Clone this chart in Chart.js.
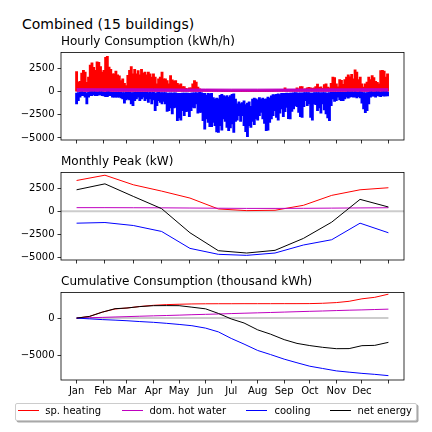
<!DOCTYPE html>
<html>
<head>
<meta charset="utf-8">
<script src="https://cdn.jsdelivr.net/npm/chart.js@4.4.1/dist/chart.umd.min.js"></script>
<style>
  body { margin: 0; width: 432px; height: 432px; background: #fff; position: relative; overflow: hidden;
         font-family: 'DejaVu Sans', sans-serif; color: #000; }
  canvas { position: absolute; left: 0; }
  #suptitle { position: absolute; left: 22px; top: 15.5px; font-size: 14px; line-height: 16px; white-space: nowrap; }
  #legend { position: absolute; left: 15px; top: 402.7px; width: 400px; height: 16.5px; border: 1px solid #cccccc;
            border-radius: 2px; background: #fff; box-shadow: 1.5px 1.5px 0 #a8a8a8; }
  .lg-line { position: absolute; top: 409.7px; width: 21px; height: 1.2px; }
  .lg-text { position: absolute; top: 404.5px; font-size: 10px; line-height: 12px; white-space: nowrap; }
</style>
</head>
<body>
<div id="suptitle">Combined (15 buildings)</div>
<canvas id="hourly" width="432" height="129" style="top:34.5px"></canvas>
<canvas id="peak" width="432" height="129" style="top:154.5px"></canvas>
<canvas id="cumul" width="432" height="129" style="top:274.5px"></canvas>
<div id="legend"></div>
<span class="lg-line" style="left:18.3px;background:#ff0000"></span><span class="lg-text" style="left:45.2px">sp. heating</span>
<span class="lg-line" style="left:122.3px;background:#bf00bf"></span><span class="lg-text" style="left:149.5px">dom. hot water</span>
<span class="lg-line" style="left:246px;background:#0000ff"></span><span class="lg-text" style="left:274.5px">cooling</span>
<span class="lg-line" style="left:330px;background:#000000"></span><span class="lg-text" style="left:357.5px">net energy</span>
<script>
// ---- data ----
const MONTHS = ['Jan', 'Feb', 'Mar', 'Apr', 'May', 'Jun', 'Jul', 'Aug', 'Sep', 'Oct', 'Nov', 'Dec'];
const MONTH_START = [0, 31, 59, 90, 120, 151, 181, 212, 243, 273, 304, 334, 365];

// hourly consumption, summarised as the max / min hourly value of each 2-day window (kWh/h)
const STEP = 2;
const heatMax2d = [
  2160, 1010, 1100, 2000, 2300, 2100, 1000, 1550, 2850, 3100,
  2600, 2300, 3200, 3150, 2700, 2100, 2300, 3700, 3800, 2630,
  2400, 1900, 1910, 2200, 1800, 1700, 1190, 1370, 900, 650,
  1750, 2300, 2700, 1910, 2400, 1900, 2270, 1800, 2400, 2000,
  2100, 1800, 2100, 1910, 1550, 1910, 1550, 830, 1370, 1550,
  2090, 1370, 1370, 1190, 830, 1730, 1260, 1120, 1190, 900,
  720, 830, 540, 540, 360, 290, 400, 400, 830, 1190,
  1010, 470, 290,
  250, 200, 180, 150, 120, 150, 100, 80, 60, 50, 40, 30,
  0, 0, 0, 0, 0, 0, 0, 0, 0, 0, 0, 0, 0, 0, 0,
  0, 0, 0, 0, 0, 0, 0, 0, 0, 0, 0, 0, 0, 0, 0,
  20, 40, 50, 80, 60, 100, 150,
  400, 250, 150, 200, 150, 200, 150, 400, 300, 540, 540, 200, 300, 400, 450,
  400, 350, 400, 550, 800, 450, 500, 350, 750, 830,
  470, 400, 900, 1550, 1500, 830, 500, 1300, 1200, 780,
  1300, 1550, 1800, 1600, 1850, 1370, 2340, 2100, 1300, 1550,
  830, 480, 830, 1010, 1550, 1300, 1730, 1500, 1100, 1000,
  830, 2270, 2300, 2200, 1550, 1900
];
const coolMin2d = [
  -1330, -980, -610, -430, -430, -610, -1330, -610, -430, -430,
  -330, -430, -430, -360, -360, -430, -470, -540, -540, -430,
  -430, -610, -610, -610, -610, -610, -690, -790, -1260, -900,
  -790, -900, -1330, -1520, -980, -790, -610, -980, -790, -610,
  -980, -790, -1160, -790, -1330, -900, -2060, -1520, -980, -1160,
  -1330, -1050, -1330, -2130, -2060, -1770, -2420, -1770, -1700, -3140,
  -2850, -3070, -2060, -2600, -2160, -2130, -2700, -2060, -1700, -1770,
  -1330, -2340, -2240, -2240, -3140, -4040, -2960, -3320, -3790, -3790,
  -3320, -3680, -4360, -4400, -3680, -4150, -2960, -3210, -3860, -4220,
  -3930, -3500, -4400, -3210, -3070, -2600, -3210, -2600, -3680, -4330,
  -4850, -3680, -3860, -3210, -3570, -2960, -3070, -2600, -2240, -2960,
  -3430, -4220, -4150, -3320, -2960, -2600, -2060, -2780, -3070, -2340,
  -1880, -2700, -2160, -1700, -2920, -2960, -2130, -1880, -1520, -1620,
  -2240, -2700, -2780, -1620, -980, -1520, -1330, -2780, -3070, -1330,
  -1410, -2060, -1770, -2340, -1330, -1980, -2420, -2850, -3140, -1520,
  -790, -1050, -980, -610, -900, -980, -980, -790, -610, -720,
  -610, -540, -610, -580, -690, -540, -690, -1260, -1880, -2270,
  -2060, -1330, -610, -500, -500, -610, -430, -500, -540, -430,
  -500, -470, -470
];
const coolMax2d = [
  -150, -120, -80, -60, -70, -90, -150, -80, -60, -50,
  -50, -60, -70, -50, -60, -60, -70, -80, -60, -60,
  -70, -80, -80, -90, -80, -70, -90, -100, -120, -90,
  -80, -90, -110, -120, -90, -80, -70, -90, -80, -70,
  -90, -80, -100, -80, -110, -90, -150, -120, -90, -100,
  -110, -100, -120, -150, -150, -130, -160, -140, -130, -200,
  -180, -200, -150, -170, -160, -150, -180, -150, -130, -140,
  -120, -150,
  -80, -100, -180, -200, -390, -180, -250, -200, -650, -800,
  -700, -790, -400, -300, -430, -550, -430, -600, -430, -300,
  -250, -800, -1330, -1100, -1300, -1200, -1000, -1400, -1250, -1100,
  -1600, -800, -700, -790, -900, -650, -800, -700, -850, -790,
  -600, -700, -450, -320, -350, -300, -250, -320, -200, -180,
  -200, -150, -180,
  -160, -150, -130, -120, -140, -160, -130, -150, -120, -110,
  -100, -120, -160, -150, -110, -100, -120, -110, -130, -100,
  -120, -140, -150, -110, -90, -80, -90, -80, -70, -90,
  -80, -70, -80, -70, -60, -70, -60, -70, -60, -80,
  -70, -60, -90, -120, -140, -100, -70, -60, -60, -70,
  -60, -50, -60, -70, -60, -60, -50, -60
];
// hourly domestic hot water band per month start (kWh/h)
const hwHourMax = [310, 300, 300, 290, 280, 270, 260, 260, 270, 280, 290, 300, 310];
const hwHourMin = [40, 40, 40, 40, 40, 40, 40, 40, 40, 40, 40, 40, 40];

// monthly peak (kW)
const heatPeak = [3310, 3880, 2850, 2170, 1420, 250, 70, 110, 640, 1710, 2310, 2530];
const hwPeak = [390, 390, 380, 370, 350, 330, 310, 310, 320, 340, 360, 380];
const coolPeak = [-1280, -1210, -1530, -2170, -3990, -4630, -4740, -4490, -3630, -3060, -1280, -2310];
const netPeak = [2310, 2950, 1600, 280, -2310, -4240, -4490, -4200, -2920, -1170, 1280, 460];

// cumulative consumption (thousand kWh)
const cumDays = [0, 15, 30, 45, 59, 74, 90, 105, 120, 135, 151, 166, 181, 196, 212, 227, 243, 258, 273, 288, 304, 319, 334, 349, 365];
const heatCum = [0, 220, 790, 1210, 1340, 1540, 1700, 1790, 1840, 1880, 1900, 1910, 1910, 1915, 1915, 1915, 1920, 1920, 1925, 1970, 2060, 2230, 2560, 2760, 3180];
const hwCum = [0, 45, 95, 150, 195, 250, 300, 345, 395, 450, 500, 545, 600, 650, 700, 745, 800, 850, 900, 945, 1000, 1050, 1090, 1140, 1190];
const coolCum = [0, -100, -200, -270, -350, -460, -560, -690, -840, -1010, -1330, -1830, -2700, -3450, -4300, -4840, -5450, -5930, -6390, -6690, -7010, -7180, -7340, -7470, -7640];
const netCum = [0, 220, 790, 1250, 1340, 1530, 1650, 1660, 1650, 1450, 1230, 620, -110, -650, -1560, -2130, -2860, -3360, -3650, -3880, -4060, -4050, -3660, -3620, -3220];

// ---- styling ----
const COLORS = { heat: '#ff0000', hw: '#bf00bf', cool: '#0000ff', net: '#000000', zero: '#cccccc' };

Chart.defaults.font.family = "'DejaVu Sans', sans-serif";
Chart.defaults.font.size = 10;
Chart.defaults.color = '#000';
Chart.defaults.animation = false;

// top and right spines like matplotlib
const framePlugin = {
  id: 'frame',
  afterDatasetsDraw(chart) {
    const { ctx, chartArea: a } = chart;
    ctx.save();
    ctx.strokeStyle = '#000';
    ctx.lineWidth = 0.8;
    ctx.strokeRect(a.left, a.top, a.right - a.left, a.bottom - a.top);
    ctx.restore();
  }
};

const fmt = v => (v < 0 ? '\u2212' + Math.abs(v) : String(v));

function tickGrid() {
  return { display: true, drawOnChartArea: false, drawTicks: true, tickLength: 3.5, color: '#000', lineWidth: 0.8, offset: false };
}

function xAxis(min, max, ticks, labels) {
  return {
    type: 'linear', min, max, offset: false,
    grid: tickGrid(),
    border: { display: false },
    ticks: { autoSkip: false, maxRotation: 0, padding: 1.5, callback: (v, i) => (labels ? (labels[i] || '') : '') },
    afterBuildTicks: s => { s.ticks = ticks.map(v => ({ value: v })); },
    afterFit: s => { s.height = 24; }
  };
}

function yAxis(min, max, ticks) {
  return {
    type: 'linear', min, max,
    grid: tickGrid(),
    border: { display: false },
    ticks: { padding: 3, callback: v => fmt(v) },
    afterBuildTicks: s => { s.ticks = ticks.map(v => ({ value: v })); },
    afterFit: s => { s.width = 61; }
  };
}

function baseOptions(title, xa, ya) {
  return {
    responsive: false,
    animation: false,
    layout: { padding: { left: 0, right: 28, top: 0, bottom: 0 } },
    plugins: {
      legend: { display: false },
      tooltip: { enabled: false },
      title: { display: true, text: title, align: 'start', fullSize: false, color: '#000',
               font: { size: 12, weight: 'normal' }, padding: { top: 0, bottom: 3.1 } }
    },
    scales: { x: xa, y: ya }
  };
}

function line(label, xs, ys, color, order, width) {
  return {
    type: 'line', label, data: xs.map((x, i) => ({ x, y: ys[i] })),
    borderColor: color, backgroundColor: color, borderWidth: width || 1,
    pointRadius: 0, tension: 0, fill: false, order
  };
}

const DAY_MIN = -18.25, DAY_MAX = 383.25;
const hourDays = heatMax2d.map((_, i) => i * STEP);
const monthIdx = MONTHS.map((_, i) => i);

// ---- Hourly consumption ----
const hwTop = line('dom. hot water', MONTH_START, hwHourMax, COLORS.hw, 2);
hwTop.fill = '+1';
new Chart(document.getElementById('hourly'), {
  type: 'bar',
  data: {
    datasets: [
      { type: 'bar', label: 'sp. heating', data: hourDays.map((x, i) => ({ x, y: heatMax2d[i] })),
        backgroundColor: COLORS.heat, borderWidth: 0, barThickness: 2.2, grouped: false, order: 3 },
      hwTop,
      line('', MONTH_START, hwHourMin, COLORS.hw, 2),
      { type: 'bar', label: 'cooling', data: hourDays.map((x, i) => ({ x, y: [coolMin2d[i], coolMax2d[i]] })),
        backgroundColor: COLORS.cool, borderWidth: 0, barThickness: 2.2, grouped: false, order: 1 }
    ]
  },
  options: baseOptions('Hourly Consumption (kWh/h)',
    xAxis(DAY_MIN, DAY_MAX, MONTH_START, null),
    yAxis(-5220, 4210, [-5000, -2500, 0, 2500])),
  plugins: [framePlugin]
});

// ---- Monthly peak ----
new Chart(document.getElementById('peak'), {
  type: 'line',
  data: {
    datasets: [
      line('', [-0.55, 11.55], [0, 0], COLORS.zero, 10, 2),
      line('sp. heating', monthIdx, heatPeak, COLORS.heat, 4),
      line('dom. hot water', monthIdx, hwPeak, COLORS.hw, 3),
      line('cooling', monthIdx, coolPeak, COLORS.cool, 2),
      line('net energy', monthIdx, netPeak, COLORS.net, 1)
    ]
  },
  options: baseOptions('Monthly Peak (kW)',
    xAxis(-0.55, 11.55, monthIdx, null),
    yAxis(-5240, 4170, [-5000, -2500, 0, 2500])),
  plugins: [framePlugin]
});

// ---- Cumulative consumption ----
new Chart(document.getElementById('cumul'), {
  type: 'line',
  data: {
    datasets: [
      line('', [0, 365], [0, 0], COLORS.zero, 10, 2),
      line('sp. heating', cumDays, heatCum, COLORS.heat, 4),
      line('dom. hot water', cumDays, hwCum, COLORS.hw, 3),
      line('cooling', cumDays, coolCum, COLORS.cool, 2),
      line('net energy', cumDays, netCum, COLORS.net, 1)
    ]
  },
  options: baseOptions('Cumulative Consumption (thousand kWh)',
    xAxis(DAY_MIN, DAY_MAX, MONTH_START, MONTHS),
    yAxis(-8220, 3400, [-5000, 0])),
  plugins: [framePlugin]
});
</script>
</body>
</html>
